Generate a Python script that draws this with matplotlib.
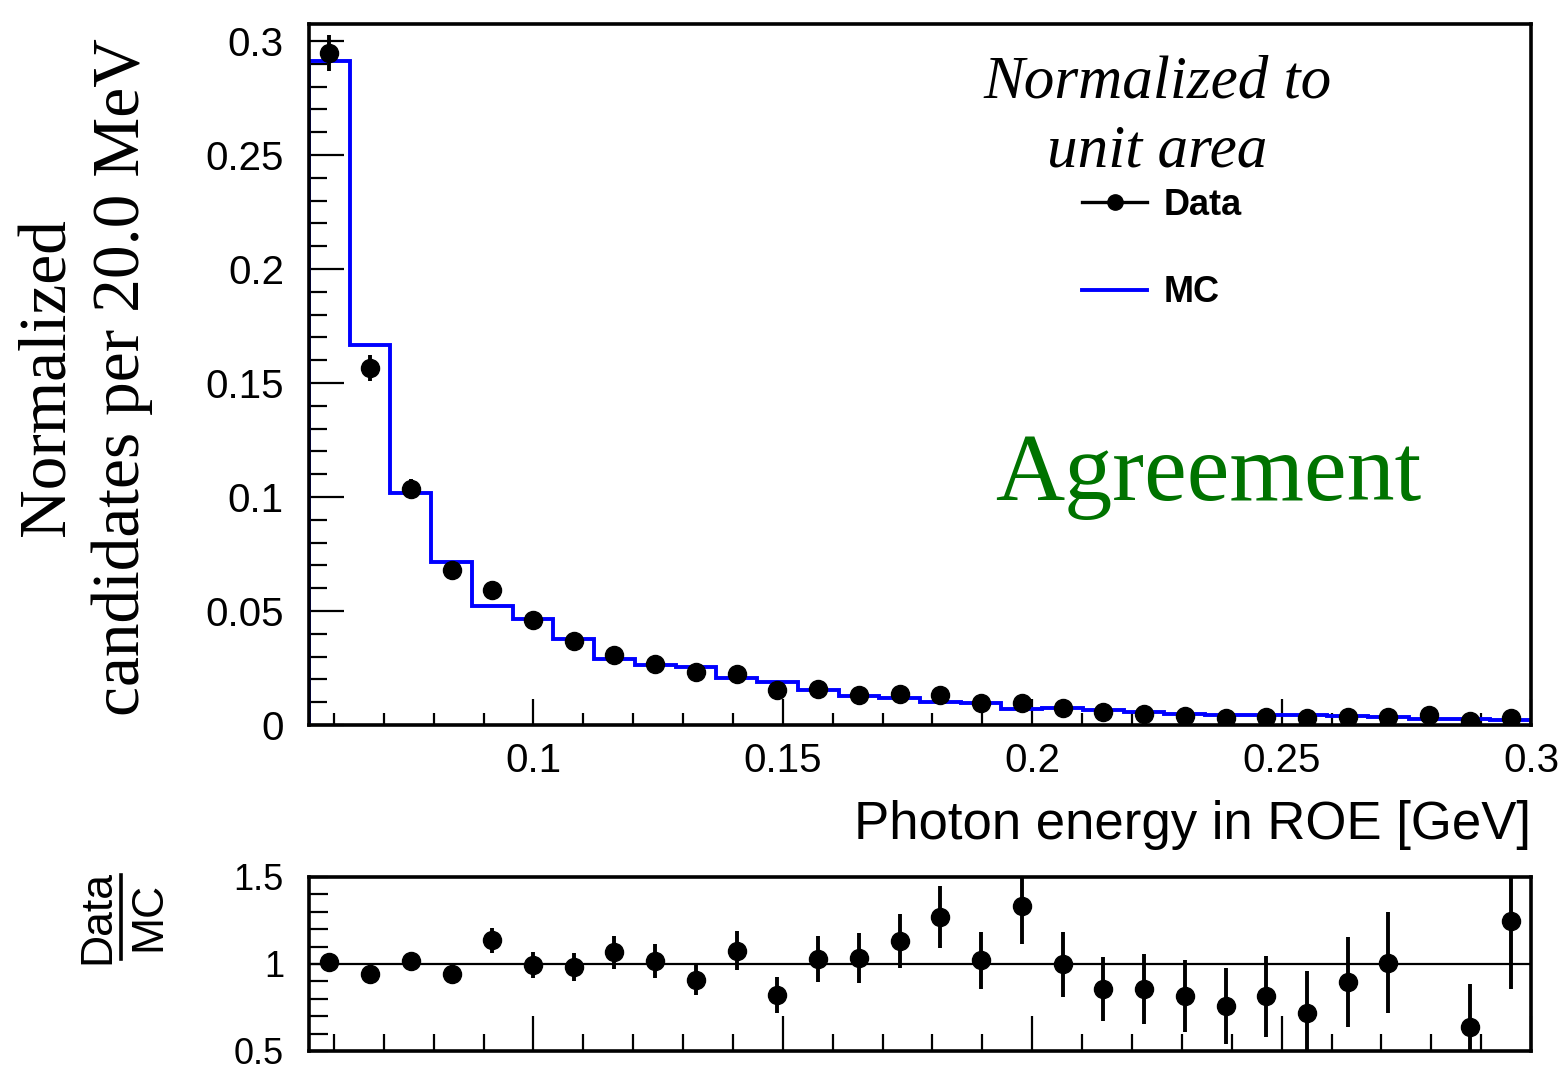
""" roe_photon_energy.py
Draws the photon energy in the rest of event (ROE) for data and MC, both
normalized to unit area, with the data/MC ratio in a small pad underneath.
"""

import numpy as np
import matplotlib.pyplot as plt
from matplotlib.lines import Line2D
from matplotlib.ticker import MultipleLocator

# binning [GeV]
e_lo, e_hi, n_bins = 0.055, 0.3, 30

data = [0.2946, 0.1568, 0.1036, 0.0678, 0.0594, 0.0461, 0.0370, 0.0309, 0.0269, 0.0233,
        0.0224, 0.0153, 0.0156, 0.0131, 0.0134, 0.0131, 0.0097, 0.0095, 0.0076, 0.0057,
        0.0047, 0.0041, 0.0032, 0.0035, 0.0030, 0.0035, 0.0035, 0.0042, 0.0017, 0.0029]
data_err = [0.0079, 0.0057, 0.0045, 0.0035, 0.0039, 0.0033, 0.0030, 0.0028, 0.0026, 0.0023,
            0.0024, 0.0019, 0.0020, 0.0018, 0.0019, 0.0018, 0.0015, 0.0013, 0.0014, 0.0012,
            0.0011, 0.0010, 0.0009, 0.0010, 0.0009, 0.0010, 0.0010, 0.0011, 0.0007, 0.0009]
mc = [0.2911, 0.1666, 0.1019, 0.0717, 0.0523, 0.0464, 0.0376, 0.0290, 0.0265, 0.0256,
      0.0208, 0.0187, 0.0152, 0.0127, 0.0118, 0.0103, 0.0095, 0.0071, 0.0076, 0.0067,
      0.0055, 0.0050, 0.0042, 0.0043, 0.0042, 0.0039, 0.0035, 0.0028, 0.0027, 0.0023]

# data/MC, bin 28 falls outside the ratio pad
ratio = [1.012, 0.941, 1.017, 0.945, 1.135, 0.994, 0.983, 1.067, 1.016, 0.910,
         1.077, 0.821, 1.027, 1.033, 1.131, 1.269, 1.021, 1.334, 0.998, 0.856,
         0.856, 0.814, 0.758, 0.814, 0.717, 0.896, 1.008, np.nan, 0.637, 1.246]
ratio_err = [0.027, 0.034, 0.044, 0.049, 0.074, 0.072, 0.080, 0.096, 0.099, 0.090,
             0.114, 0.104, 0.131, 0.144, 0.157, 0.180, 0.163, 0.220, 0.186, 0.183,
             0.200, 0.207, 0.217, 0.232, 0.240, 0.258, 0.291, np.nan, 0.250, 0.390]

x_ticks = [0.1, 0.15, 0.2, 0.25, 0.3]
x_tick_labels = ["0.1", "0.15", "0.2", "0.25", "0.3"]
y_ticks = [0, 0.05, 0.1, 0.15, 0.2, 0.25, 0.3]
y_tick_labels = ["0", "0.05", "0.1", "0.15", "0.2", "0.25", "0.3"]
ratio_ticks = [0.5, 1, 1.5]
ratio_tick_labels = ["0.5", "1", "1.5"]

SANS = "Liberation Sans"
SERIF = "Liberation Serif"
GREEN = "#007300"

""" style_axis(ax, ymajor_len, yminor_len, label_size)
ROOT-like frame: thick box, ticks pointing inward on the left and bottom only """
def style_axis(ax, ymajor_len, yminor_len, label_size):
    for s in ax.spines.values():
        s.set_linewidth(2.6)
    ax.xaxis.set_minor_locator(MultipleLocator(0.01))
    ax.yaxis.set_minor_locator(MultipleLocator(0.01 if ymajor_len > 18 else 0.1))
    ax.tick_params(axis="both", which="both", direction="in", top=False, right=False,
                   width=1.6, labelsize=label_size)
    ax.tick_params(axis="x", which="major", length=19, pad=12)
    ax.tick_params(axis="x", which="minor", length=9)
    ax.tick_params(axis="y", which="major", length=ymajor_len, pad=18)
    ax.tick_params(axis="y", which="minor", length=yminor_len)
    for lab in ax.get_xticklabels() + ax.get_yticklabels():
        lab.set_family(SANS)


if __name__ == "__main__":
    edges = np.linspace(e_lo, e_hi, n_bins + 1)
    centers = 0.5 * (edges[1:] + edges[:-1])

    fig = plt.figure(figsize=(15.62, 10.8), dpi=100)
    ax = fig.add_axes([0.1978, 0.3287, 0.7824, 0.6491])
    rax = fig.add_axes([0.1978, 0.0269, 0.7824, 0.1611])

    # top pad: MC histogram and data points
    ax.stairs(mc, edges, color="blue", linewidth=2.8, baseline=0, zorder=2)
    ax.errorbar(centers, data, yerr=data_err, fmt="o", color="black", ms=13,
                elinewidth=2.8, capsize=0, zorder=3)
    ax.set_xlim(e_lo, e_hi)
    ax.set_ylim(0, 0.3075)
    ax.set_xticks(x_ticks)
    ax.set_xticklabels(x_tick_labels)
    ax.set_yticks(y_ticks)
    ax.set_yticklabels(y_tick_labels)
    style_axis(ax, 25, 13, 29)

    ax.text(0.694, 0.867, "Normalized to\nunit area", transform=ax.transAxes,
            ha="center", va="center", fontsize=44, family=SERIF, style="italic",
            linespacing=1.3)
    ax.text(0.7357, 0.321, "Agreement", transform=ax.transAxes, ha="center",
            va="baseline", fontsize=69, family=SERIF, color=GREEN)

    handles = [Line2D([], [], color="black", lw=2.4, marker="o", ms=11),
               Line2D([], [], color="blue", lw=2.8)]
    ax.legend(handles, ["Data", "MC"], loc="upper left",
              bbox_to_anchor=(0.6326, 0.766), frameon=False, borderpad=0,
              borderaxespad=0, handlelength=1.8, handletextpad=0.45,
              labelspacing=1.45, prop={"family": SANS, "weight": "bold", "size": 26})

    # bottom pad: data / MC
    rax.axhline(1, color="black", linewidth=1.6, zorder=1)
    rax.errorbar(centers, ratio, yerr=ratio_err, fmt="o", color="black", ms=13,
                 elinewidth=2.8, capsize=0, zorder=3)
    rax.set_xlim(e_lo, e_hi)
    rax.set_ylim(0.5, 1.5)
    rax.set_xticks(x_ticks)
    rax.set_xticklabels([])
    rax.set_yticks(ratio_ticks)
    rax.set_yticklabels(ratio_tick_labels)
    style_axis(rax, 14, 14, 26)
    rax.tick_params(axis="x", which="major", length=25)
    rax.tick_params(axis="x", which="minor", length=12)

    fig.text(0.0545, 0.651, "Normalized\ncandidates per 20.0 MeV", rotation=90,
             ha="center", va="center", fontsize=48.5, family=SERIF, linespacing=1.28)
    fig.text(0.9802, 0.236, "Photon energy in ROE [GeV]", ha="right", va="center",
             fontsize=38, family=SANS)

    # Data over MC, written as a rotated fraction
    fig.text(0.0625, 0.151, "Data", rotation=90, ha="center", va="center",
             fontsize=32, family=SANS)
    fig.text(0.0955, 0.151, "MC", rotation=90, ha="center", va="center",
             fontsize=32, family=SANS)
    fig.add_artist(Line2D([0.0775, 0.0775], [0.112, 0.19], color="black", lw=2.6,
                          transform=fig.transFigure))

    fig.savefig("out.png", dpi=100)
